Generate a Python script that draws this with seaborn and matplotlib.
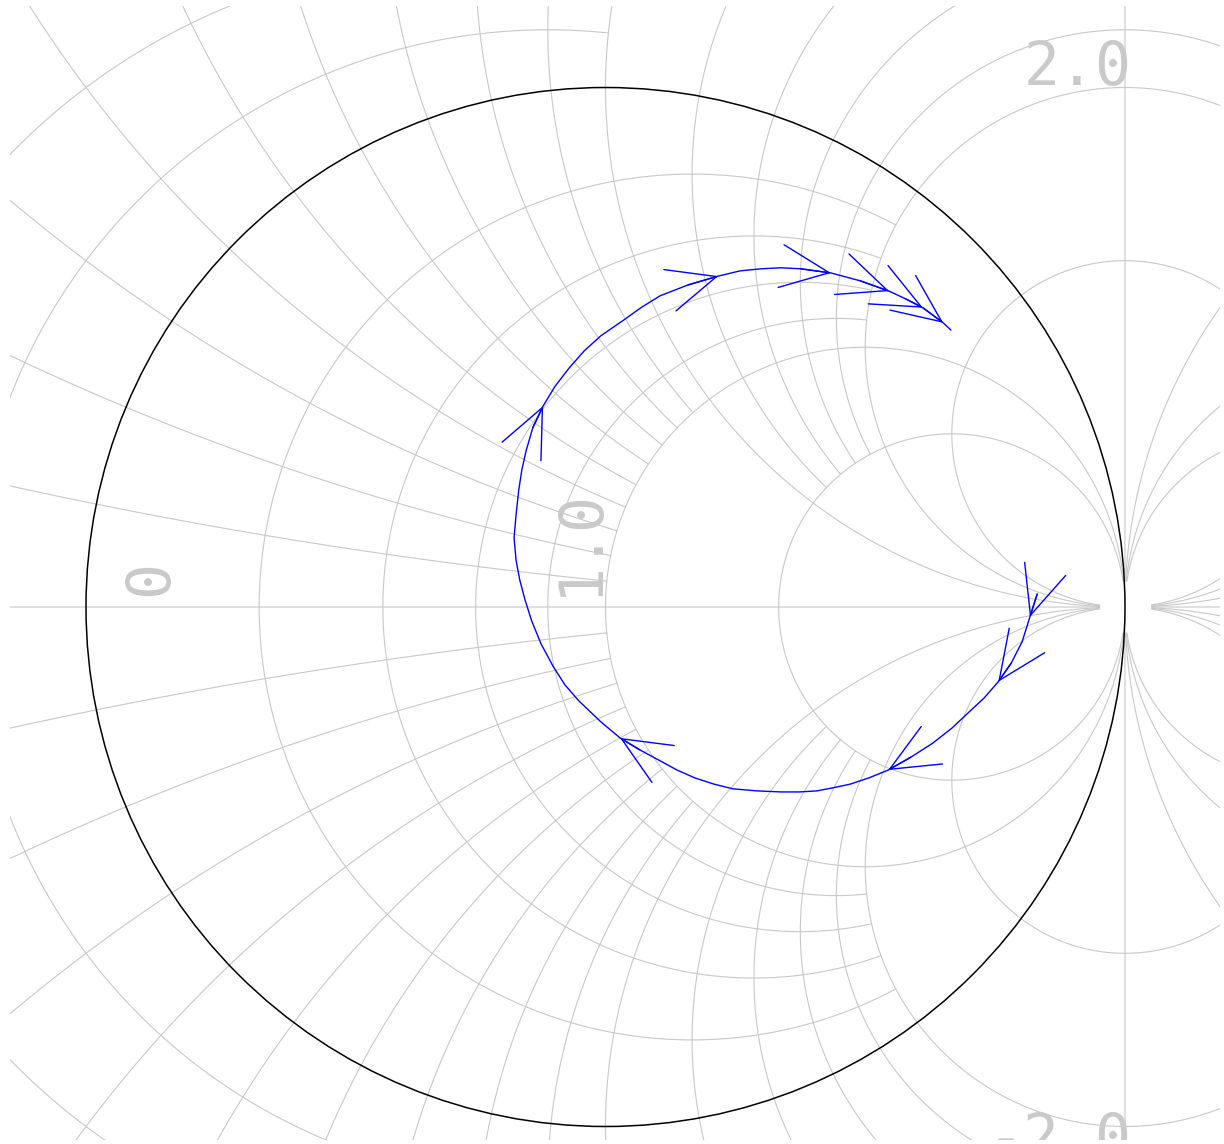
import numpy as np
import pandas as pd
import matplotlib
matplotlib.use("Agg")
import matplotlib.pyplot as plt
import seaborn as sns

# constant-resistance lines: value and how far in reactance each one runs
r_vals = [0.2, 0.4, 0.6, 0.8, 1.0, 2.0, -0.1, -0.2, -1.0, -2.0, -3.0, -4.0]
r_span = [2, 2, 2, 2, 40, 40, 1, 1, 40, 40, 40, 40]
# constant-reactance lines: value and the resistance range each one covers
x_vals = [0.1, 0.2, 0.3, 0.4, 0.5, 0.6, 0.7, 0.8, 0.9, 1.0,
          1.2, 1.4, 1.6, 1.8, 2.0, 3.0]
x_rmin = [-3] * 9 + [-40] + [-4] * 4 + [-40, -40]
x_rmax = [1] * 9 + [40] + [2] * 4 + [40, 40]

# the locus (reflection coefficient)
gam_re = [0.831, 0.817, 0.802, 0.781, 0.756, 0.729, 0.700, 0.667, 0.630,
          0.588, 0.544, 0.507, 0.471, 0.438, 0.407, 0.373, 0.338, 0.292,
          0.245, 0.209, 0.172, 0.138, 0.105, 0.066, 0.028, -0.009, -0.051,
          -0.078, -0.101, -0.124, -0.142, -0.155, -0.165, -0.172, -0.176,
          -0.172, -0.167, -0.161, -0.153, -0.140, -0.120, -0.097, -0.070,
          -0.041, -0.009, 0.036, 0.068, 0.105, 0.159, 0.217, 0.259, 0.299,
          0.338, 0.376, 0.434, 0.490, 0.546, 0.578, 0.611, 0.650, 0.665]
gam_im = [0.025, -0.019, -0.067, -0.108, -0.144, -0.175, -0.202, -0.233,
          -0.262, -0.289, -0.314, -0.329, -0.341, -0.348, -0.354, -0.356,
          -0.356, -0.354, -0.350, -0.341, -0.329, -0.314, -0.296, -0.275,
          -0.252, -0.221, -0.181, -0.150, -0.114, -0.071, -0.027, 0.014,
          0.052, 0.089, 0.133, 0.179, 0.225, 0.264, 0.300, 0.345, 0.387,
          0.425, 0.460, 0.493, 0.522, 0.553, 0.576, 0.599, 0.620, 0.637,
          0.647, 0.651, 0.653, 0.651, 0.643, 0.628, 0.608, 0.593, 0.576,
          0.547, 0.533]
arrow_idx = [1, 4, 10, 24, 40, 49, 54, 56, 58, 59]

labels = ["0", "1.0", "2.0", "-2.0"]

grid_c = "#c8c8c8"

sns.set_style("white")
fig = plt.figure(figsize=(12.24, 11.44), dpi=100)
ax = fig.add_axes([10 / 1224, 4 / 1144, 1210 / 1224, 1134 / 1144])


def gamma(z):
    with np.errstate(divide="ignore", invalid="ignore"):
        g = (z - 1) / (z + 1)
    g[~(np.abs(g) < 20)] = np.nan  # break lines that pass through infinity
    return g


def sweep(lo, hi):
    return np.linspace(lo, hi, int((hi - lo) / 0.002) + 1)


for r, s in zip(r_vals, r_span):
    g = gamma(r + 1j * sweep(-s, s))
    ax.plot(g.real, g.imag, color=grid_c, lw=0.8, zorder=1)

g = gamma(sweep(-40, 40) + 0j)
ax.plot(g.real, g.imag, color=grid_c, lw=0.8, zorder=1)
for x, lo, hi in zip(x_vals, x_rmin, x_rmax):
    for sgn in (1, -1):
        g = gamma(sweep(lo, hi) + 1j * sgn * x)
        ax.plot(g.real, g.imag, color=grid_c, lw=0.8, zorder=1)

# outer circle |gamma| = 1
ax.add_patch(plt.Circle((0, 0), 1, fill=False, color="black", lw=1.1, zorder=3))

# locus with direction arrows
df = pd.DataFrame({"re": gam_re, "im": gam_im})
sns.lineplot(data=df, x="re", y="im", sort=False, estimator=None,
             color="#0000ff", lw=1.0, ax=ax, zorder=4)
for i in arrow_idx:
    ax.annotate("", xy=(gam_re[i], gam_im[i]), xytext=(gam_re[i - 1], gam_im[i - 1]),
                arrowprops=dict(arrowstyle="->,head_length=3.5,head_width=1.55",
                                color="#0000ff", lw=1.0, shrinkA=0, shrinkB=0,
                                mutation_scale=10), zorder=5)

# labels
txt = dict(fontsize=43, color="#cacaca", family="DejaVu Sans Mono", zorder=2,
           clip_on=True)
ax.text(-0.844, 0.021, labels[0], rotation=90, rotation_mode="anchor",
        ha="left", va="baseline", **txt)
ax.text(-0.016, 0.021, labels[1], rotation=90, rotation_mode="anchor",
        ha="left", va="baseline", **txt)
ax.text(1.012, 1.005, labels[2], ha="right", va="baseline", **txt)
ax.text(1.012, -1.058, labels[3], ha="right", va="baseline", **txt)

ax.set_xlim(-1.1463, 1.1829)
ax.set_ylim(-1.0260, 1.1569)
ax.set_xlabel("")
ax.set_ylabel("")
ax.axis("off")

fig.savefig("out.png", dpi=100, facecolor="white")
